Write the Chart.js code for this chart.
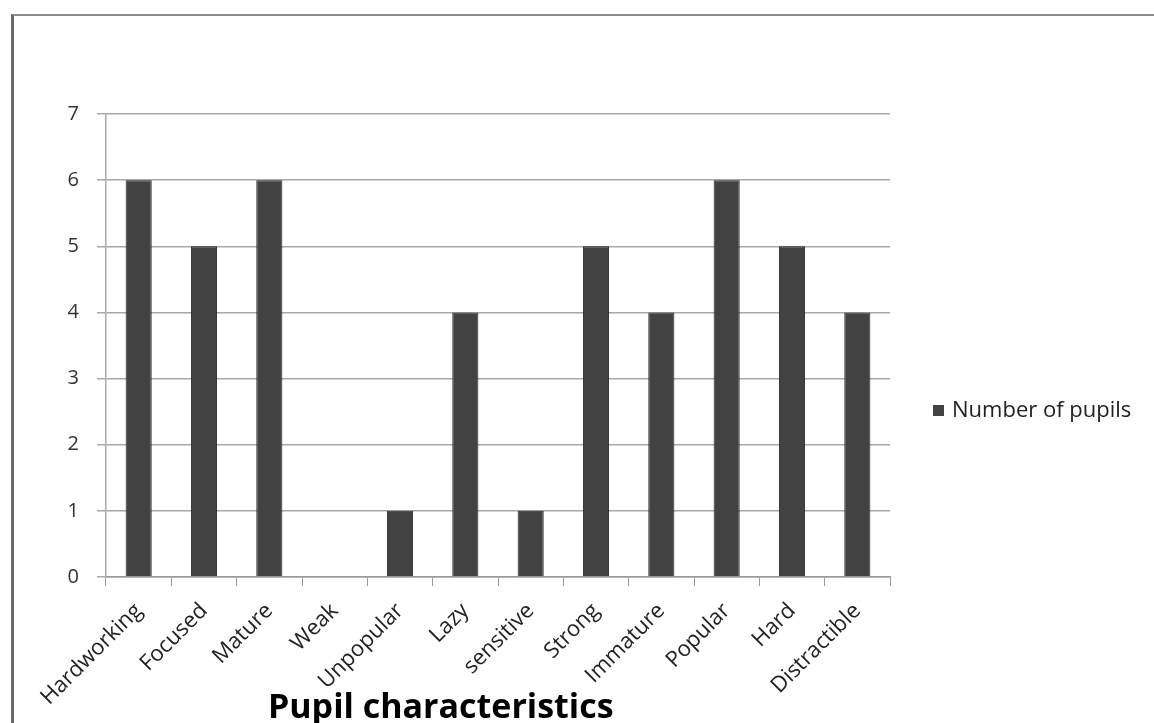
<!DOCTYPE html>
<html lang="en">
<head>
    <meta charset="UTF-8">
    <title>Pupil characteristics</title>
    <script src="https://cdn.jsdelivr.net/npm/chart.js"></script>
    <style>
        html, body { margin: 0; padding: 0; background: #fff; }
        .frame {
            position: absolute;
            left: 11px; top: 14px;
            width: 1143px; height: 709px;
            border-top: 2px solid #8a8a8a;
            border-left: 3px solid #6a6a6a;
            box-sizing: border-box;
        }
        .chart-container { position: absolute; left: 0; top: 0; width: 1154px; height: 723px; }
    </style>
</head>
<body>
    <div class="frame"></div>
    <div class="chart-container">
        <canvas id="barChart"></canvas>
    </div>

    <script>
        // Data
        const categories = ['Hardworking', 'Focused', 'Mature', 'Weak', 'Unpopular', 'Lazy',
            'sensitive', 'Strong', 'Immature', 'Popular', 'Hard', 'Distractible'];
        const pupils = [6, 5, 6, 0, 1, 4, 1, 5, 4, 6, 5, 4];
        const seriesName = 'Number of pupils';
        const axisTitle = 'Pupil characteristics';
        const yMin = 0, yMax = 7, yStep = 1;

        // Axis title (sits left of centre, like the original) and the legend
        const extras = {
            id: 'extras',
            afterDraw(chart) {
                const ctx = chart.ctx;
                const area = chart.chartArea;
                ctx.save();
                ctx.fillStyle = '#000';
                ctx.font = 'bold 34px "Open Sans"';
                ctx.textAlign = 'center';
                ctx.textBaseline = 'alphabetic';
                ctx.fillText(axisTitle, area.left + area.width * 0.427, 718);

                const ds = chart.data.datasets[0];
                const ly = 411;
                ctx.fillStyle = ds.backgroundColor;
                ctx.fillRect(933, ly - 6, 11, 11);
                ctx.fillStyle = '#222';
                ctx.font = '22px "Open Sans"';
                ctx.textAlign = 'left';
                ctx.textBaseline = 'middle';
                ctx.fillText(ds.label, 952, ly);
                ctx.restore();
            }
        };

        document.addEventListener('DOMContentLoaded', function() {
            const ctx = document.getElementById('barChart').getContext('2d');

            new Chart(ctx, {
                type: 'bar',
                data: {
                    labels: categories,
                    datasets: [{
                        label: seriesName,
                        data: pupils,
                        backgroundColor: '#424242',
                        borderColor: '#2a2a2a',
                        borderWidth: 1,
                        categoryPercentage: 1.0,
                        barPercentage: 0.4
                    }]
                },
                options: {
                    responsive: true,
                    maintainAspectRatio: false,
                    animation: false,
                    layout: {
                        padding: { top: 114, right: 264, left: 0, bottom: 0 }
                    },
                    scales: {
                        x: {
                            grid: {
                                display: true,
                                drawOnChartArea: false,
                                color: '#9a9a9a',
                                tickLength: 9,
                                offset: true
                            },
                            border: { color: '#9a9a9a', width: 1.5 },
                            ticks: {
                                color: '#222',
                                minRotation: 45,
                                maxRotation: 45,
                                padding: 12,
                                font: { family: '"Open Sans"', size: 22 }
                            },
                            afterFit(scale) { scale.height = 146; }
                        },
                        y: {
                            min: yMin,
                            max: yMax,
                            ticks: {
                                stepSize: yStep,
                                color: '#333',
                                padding: 18,
                                font: { family: '"Open Sans"', size: 20 }
                            },
                            grid: {
                                color: '#a8a8a8',
                                lineWidth: 1.5,
                                tickLength: 9
                            },
                            border: { color: '#a8a8a8', width: 1.5 },
                            afterFit(scale) { scale.width = 106; }
                        }
                    },
                    plugins: {
                        legend: { display: false },
                        tooltip: { enabled: false }
                    }
                },
                plugins: [extras]
            });
        });
    </script>
</body>
</html>
